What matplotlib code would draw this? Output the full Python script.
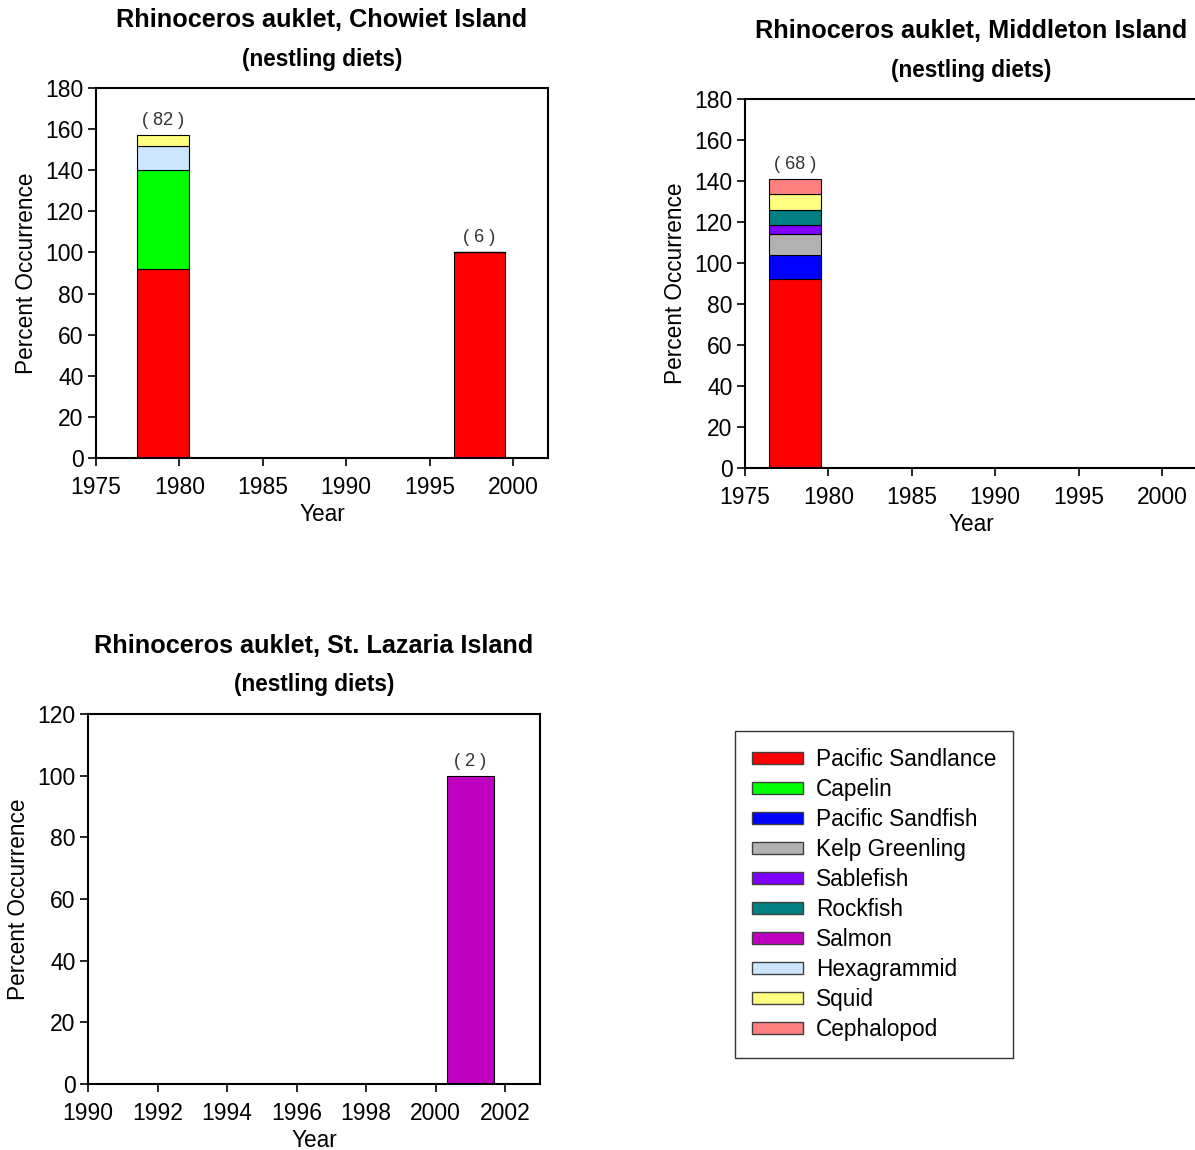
import matplotlib.pyplot as plt
from matplotlib.patches import Patch

plt.rcParams["font.family"] = ["Liberation Sans", "DejaVu Sans"]

SPECIES = [
    "Pacific Sandlance",
    "Capelin",
    "Pacific Sandfish",
    "Kelp Greenling",
    "Sablefish",
    "Rockfish",
    "Salmon",
    "Hexagrammid",
    "Squid",
    "Cephalopod",
]
SPECIES_COLORS = [
    "#FF0000",
    "#00FF00",
    "#0000FF",
    "#B2B2B2",
    "#8000FF",
    "#008080",
    "#C000C0",
    "#CCE6FF",
    "#FFFF80",
    "#FF8080",
]

# Chowiet Island
chowiet_years = [1979, 1998]
chowiet_n = [82, 6]
chowiet_sandlance = [92, 100]
chowiet_capelin = [48, 0]
chowiet_hexagrammid = [12, 0]
chowiet_squid = [5, 0]

# Middleton Island
middleton_years = [1978]
middleton_n = [68]
middleton_sandlance = [92]
middleton_sandfish = [12]
middleton_greenling = [10]
middleton_sablefish = [4.5]
middleton_rockfish = [7.5]
middleton_squid = [7.5]
middleton_cephalopod = [7.5]

# St. Lazaria Island
lazaria_years = [2001]
lazaria_n = [2]
lazaria_salmon = [100]

FIG_W, FIG_H = 1195, 1150
TICK_SIZE = 16.5
LABEL_SIZE = 16.3


def px_axes(fig, left, top, right, bottom):
    return fig.add_axes([left / FIG_W, 1 - bottom / FIG_H, (right - left) / FIG_W, (bottom - top) / FIG_H])


def draw_panel(ax, title, years, n, stacks, width, xlim, xticks, ylim, yticks):
    bottom = [0] * len(years)
    for name, values in stacks:
        color = SPECIES_COLORS[SPECIES.index(name)]
        ax.bar(years, values, width=width, bottom=bottom, color=color,
               edgecolor="black", linewidth=0.8, zorder=2)
        bottom = [b + v for b, v in zip(bottom, values)]
    for x, total, count in zip(years, bottom, n):
        ax.text(x, total + 3 * ylim[1] / 180, f"( {count} )", ha="center", va="bottom",
                fontsize=13, color="#333333")
    ax.set_xlim(*xlim)
    ax.set_ylim(*ylim)
    ax.set_xticks(xticks)
    ax.set_yticks(yticks)
    ax.tick_params(direction="out", length=6, width=1.2, labelsize=TICK_SIZE)
    ax.tick_params(axis="x", pad=7)
    ax.tick_params(axis="y", pad=3)
    for spine in ax.spines.values():
        spine.set_linewidth(1.5)
    ax.set_xlabel("Year", fontsize=LABEL_SIZE, labelpad=2.5)
    ax.set_ylabel("Percent Occurrence", fontsize=LABEL_SIZE, labelpad=5)
    ax.text(0.5, 1.0 + 68 / 370, title, transform=ax.transAxes, ha="center", va="center",
            fontsize=18.2, fontweight="bold")
    ax.text(0.5, 1.0 + 29 / 370, "(nestling diets)", transform=ax.transAxes, ha="center",
            va="center", fontsize=16.3, fontweight="bold")


fig = plt.figure(figsize=(FIG_W / 100, FIG_H / 100), dpi=100)

ax1 = px_axes(fig, 96, 88, 548, 458)
draw_panel(
    ax1, "Rhinoceros auklet, Chowiet Island", chowiet_years, chowiet_n,
    [("Pacific Sandlance", chowiet_sandlance), ("Capelin", chowiet_capelin),
     ("Hexagrammid", chowiet_hexagrammid), ("Squid", chowiet_squid)],
    3.1, (1975, 2002.1), range(1975, 2001, 5), (0, 180), range(0, 181, 20),
)

ax2 = px_axes(fig, 745, 99, 1197, 468)
draw_panel(
    ax2, "Rhinoceros auklet, Middleton Island", middleton_years, middleton_n,
    [("Pacific Sandlance", middleton_sandlance), ("Pacific Sandfish", middleton_sandfish),
     ("Kelp Greenling", middleton_greenling), ("Sablefish", middleton_sablefish),
     ("Rockfish", middleton_rockfish), ("Squid", middleton_squid),
     ("Cephalopod", middleton_cephalopod)],
    3.1, (1975, 2002.1), range(1975, 2001, 5), (0, 180), range(0, 181, 20),
)

ax3 = px_axes(fig, 88, 714, 540, 1084)
draw_panel(
    ax3, "Rhinoceros auklet, St. Lazaria Island", lazaria_years, lazaria_n,
    [("Salmon", lazaria_salmon)],
    1.35, (1990, 2003), range(1990, 2003, 2), (0, 120), range(0, 121, 20),
)

handles = [Patch(facecolor=c, edgecolor="#404040", linewidth=1.0) for c in SPECIES_COLORS]
leg = fig.legend(
    handles, SPECIES, loc="upper left", bbox_to_anchor=(735 / FIG_W, 1 - 731 / FIG_H),
    fontsize=LABEL_SIZE, frameon=True, fancybox=False, edgecolor="black",
    handlelength=2.25, handleheight=0.4, handletextpad=0.57, labelspacing=0.31,
    borderpad=0.75, borderaxespad=0,
)
leg.get_frame().set_linewidth(1.0)

fig.savefig("out.png", dpi=100)
